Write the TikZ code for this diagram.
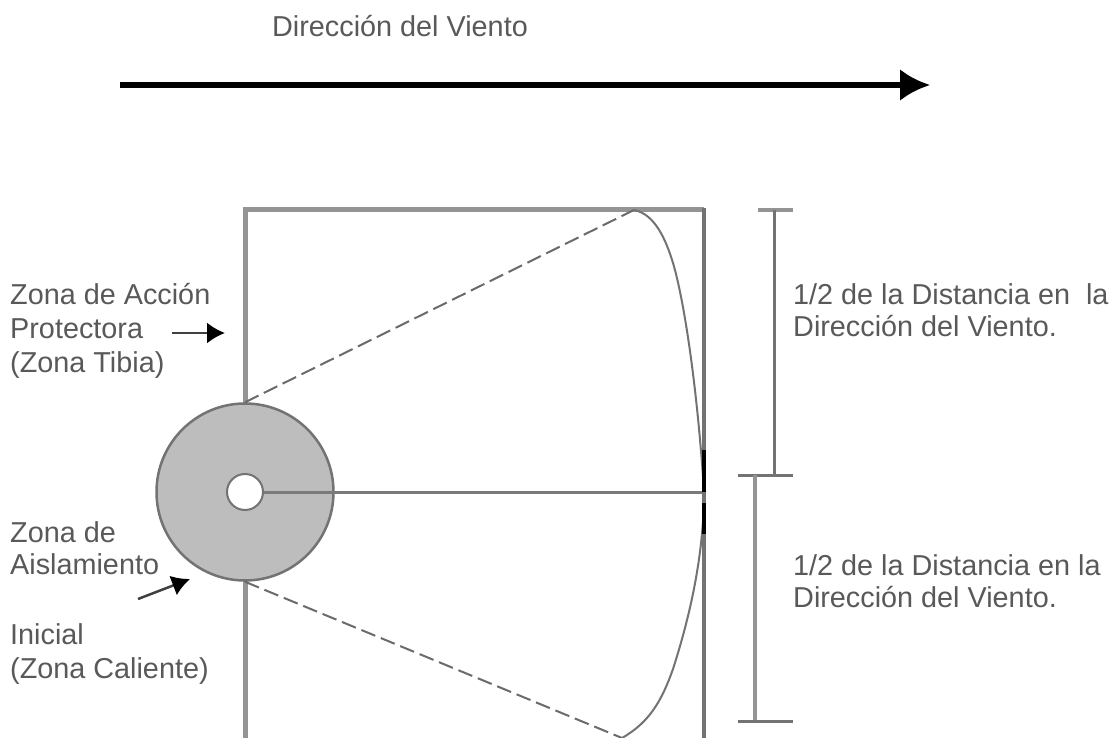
\documentclass[tikz,border=0pt]{standalone}
\usepackage{fontspec}
\setmainfont{Liberation Sans}
\usetikzlibrary{arrows.meta}
\tikzset{
  lbl/.style={inner sep=0pt,anchor=north west,align=left,text=black!65,font=\fontsize{28.8}{34}\selectfont},
  rlbl/.style={lbl,font=\fontsize{28.8}{32.5}\selectfont},
  frame/.style={draw=black!42,line width=5pt},
  thin line/.style={draw=black!52,line width=3pt},
  dim/.style={draw=black!55,line width=3pt},
  dimlight/.style={draw=black!42,line width=4.5pt},
  pointer/.style={draw=black!75,line width=2.5pt,-{Latex[length=18pt,width=21pt,color=black]}},
  dashline/.style={draw=black!58,line width=2pt,dash pattern=on 15pt off 6pt}
}
\begin{document}
\begin{tikzpicture}[x=1pt,y=-1pt]
\useasboundingbox (0,0) rectangle (1120,738);
\fill[white] (0,0) rectangle (1120,738);
\node[lbl] (title) at (272,15) {Dirección del Viento};
\coordinate (wa) at (120,85);
\coordinate (wb) at (930,85);
\draw[line width=5.5pt,-{Latex[length=30pt,width=32pt]}] (wa) -- (wb);
% frame
\coordinate (tl) at (245,210);
\coordinate (tr) at (704,210);
\coordinate (bl) at (245,738);
\coordinate (br) at (704,738);
\draw[frame] (bl) -- (tl) -- (tr);
\draw[draw=black!55,line width=3.5pt] (704,208) -- (br);
% disc
\node[circle,draw=black!55,fill=black!26,line width=2.5pt,minimum size=177pt,inner sep=0pt] (disc) at (245,492) {};
\node[circle,draw=black!55,fill=white,line width=2pt,minimum size=36pt,inner sep=0pt] (hole) at (245,492) {};
\coordinate (axis) at (704,492);
\draw[thin line] (hole.east) -- (axis);
% plume
\coordinate (pt) at (634,210);
\coordinate (pb) at (622,738);
\draw[dashline] (disc.north) -- (pt);
\draw[dashline] (disc.south) -- (pb);
\draw[draw=black!55,line width=2pt] (pt) .. controls (655,214) and (666,240) .. (673,263) .. controls (684,300) and (697,385) .. (704,491) .. controls (704,550) and (692,610) .. (673,669) .. controls (662,700) and (650,722) .. (622,738);
\draw[draw=black,line width=3.5pt] (704,450) -- (704,492);
\draw[draw=black,line width=3.5pt] (704,503) -- (704,534);
% dimension bars
\coordinate (d1a) at (774,210);
\coordinate (d1b) at (774,475);
\coordinate (d2a) at (755,475);
\coordinate (d2b) at (755,721);
\draw[dimlight] (758,210) -- (793,210);
\draw[dim] (d1a) -- (d1b);
\draw[dim] (738,475) -- (793,475);
\draw[dimlight] (d2a) -- (d2b);
\draw[dim] (738,721) -- (793,721);
% labels
\node[rlbl] (rt) at (793,283) {1/2 de la Distancia en\ \ la\\Dirección del Viento.};
\node[rlbl] (rb) at (793,554) {1/2 de la Distancia en la\\Dirección del Viento.};
\node[lbl] (prot) at (10,283) {Zona de Acción\\Protectora\\(Zona Tibia)};
\node[rlbl] (ais) at (10,521) {Zona de\\Aislamiento};
\node[lbl] (ini) at (10,623) {Inicial\\(Zona Caliente)};
\coordinate (p1a) at (172,333);
\coordinate (p1b) at (225,333);
\coordinate (p2a) at (138,599);
\coordinate (p2b) at (190,579);
\draw[pointer] (p1a) -- (p1b);
\draw[pointer] (p2a) -- (p2b);
\end{tikzpicture}
\end{document}
